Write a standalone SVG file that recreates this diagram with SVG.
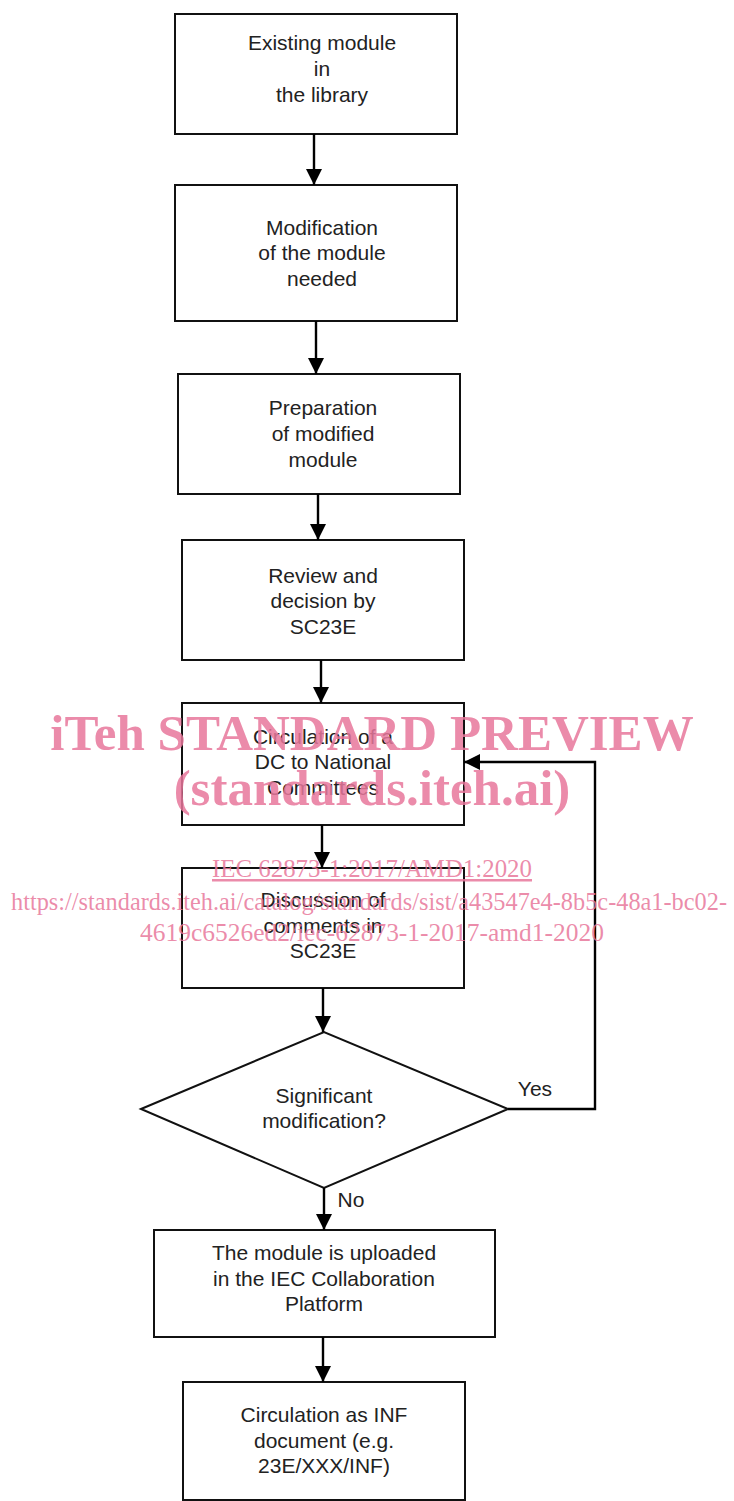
<svg xmlns="http://www.w3.org/2000/svg" width="734" height="1501" viewBox="0 0 734 1501">
<defs>
<marker id="arr" viewBox="0 0 14 16" refX="16" refY="8" markerWidth="14" markerHeight="16" markerUnits="userSpaceOnUse" orient="auto"><path d="M0,0 L16,8 L0,16 z" fill="#000"/></marker>
<style>
.box{fill:#fff;stroke:#111;stroke-width:2}
.t{font-family:"Liberation Sans",Arial,sans-serif;font-size:21px;fill:#222;text-anchor:middle}
.c{fill:none;stroke:#000;stroke-width:2.4}
.wm{font-family:"Liberation Serif","Times New Roman",serif;fill:#e8779b;fill-opacity:0.85;text-anchor:middle}
</style>
</defs>
<rect width="734" height="1501" fill="#fff"/>
<g id="n1"><rect class="box" x="175" y="14" width="282" height="120"/>
<text class="t"><tspan x="322" y="50">Existing module</tspan><tspan x="322" y="76">in</tspan><tspan x="322" y="102">the library</tspan></text></g>
<g id="n2"><rect class="box" x="175" y="185" width="282" height="136"/>
<text class="t"><tspan x="322" y="235">Modification</tspan><tspan x="322" y="260">of the module</tspan><tspan x="322" y="286">needed</tspan></text></g>
<g id="n3"><rect class="box" x="178" y="374" width="282" height="120"/>
<text class="t"><tspan x="323" y="415">Preparation</tspan><tspan x="323" y="441">of modified</tspan><tspan x="323" y="467">module</tspan></text></g>
<g id="n4"><rect class="box" x="182" y="540" width="282" height="120"/>
<text class="t"><tspan x="323" y="583">Review and</tspan><tspan x="323" y="608">decision by</tspan><tspan x="323" y="634">SC23E</tspan></text></g>
<g id="n5"><rect class="box" x="182" y="703" width="282" height="122"/>
<text class="t"><tspan x="323" y="744">Circulation of a</tspan><tspan x="323" y="769">DC to National</tspan><tspan x="323" y="795">Committees</tspan></text></g>
<g id="n6"><rect class="box" x="182" y="868" width="282" height="120"/>
<text class="t"><tspan x="323" y="907">Discussion of</tspan><tspan x="323" y="933">comments in</tspan><tspan x="323" y="958">SC23E</tspan></text></g>
<g id="n7"><polygon class="box" points="141,1109 324,1032 508,1109 324,1188"/>
<text class="t"><tspan x="324" y="1103">Significant</tspan><tspan x="324" y="1128">modification?</tspan></text></g>
<g id="n8"><rect class="box" x="154" y="1230" width="341" height="107"/>
<text class="t"><tspan x="324" y="1260">The module is uploaded</tspan><tspan x="324" y="1286">in the IEC Collaboration</tspan><tspan x="324" y="1311">Platform</tspan></text></g>
<g id="n9"><rect class="box" x="183" y="1382" width="282" height="118"/>
<text class="t"><tspan x="324" y="1422">Circulation as INF</tspan><tspan x="324" y="1448">document (e.g.</tspan><tspan x="324" y="1473">23E/XXX/INF)</tspan></text></g>
<g id="connectors">
<line class="c" x1="314" y1="134" x2="314" y2="185" marker-end="url(#arr)"/>
<line class="c" x1="316" y1="321" x2="316" y2="374" marker-end="url(#arr)"/>
<line class="c" x1="318" y1="494" x2="318" y2="540" marker-end="url(#arr)"/>
<line class="c" x1="321" y1="660" x2="321" y2="703" marker-end="url(#arr)"/>
<line class="c" x1="322" y1="825" x2="322" y2="868" marker-end="url(#arr)"/>
<line class="c" x1="323" y1="988" x2="323" y2="1032" marker-end="url(#arr)"/>
<line class="c" x1="324" y1="1188" x2="324" y2="1230" marker-end="url(#arr)"/>
<line class="c" x1="323" y1="1337" x2="323" y2="1382" marker-end="url(#arr)"/>
<polyline class="c" points="508,1109 595,1109 595,762 464,762" marker-end="url(#arr)"/>
<text class="t" x="535" y="1096">Yes</text>
<text class="t" x="351" y="1207">No</text>
</g>
<g id="watermark">
<text class="wm" x="372" y="750" font-size="51" font-weight="bold">iTeh STANDARD PREVIEW</text>
<text class="wm" x="372" y="805" font-size="51" font-weight="bold">(standards.iteh.ai)</text>
<text class="wm" x="372" y="877" font-size="25" text-decoration="underline" textLength="320" lengthAdjust="spacingAndGlyphs">IEC 62873-1:2017/AMD1:2020</text>
<text class="wm" x="369" y="910" font-size="25" textLength="716" lengthAdjust="spacingAndGlyphs">https://standards.iteh.ai/catalog/standards/sist/a43547e4-8b5c-48a1-bc02-</text>
<text class="wm" x="372" y="941" font-size="25" textLength="464" lengthAdjust="spacingAndGlyphs">4619c6526ed2/iec-62873-1-2017-amd1-2020</text>
</g>
</svg>
